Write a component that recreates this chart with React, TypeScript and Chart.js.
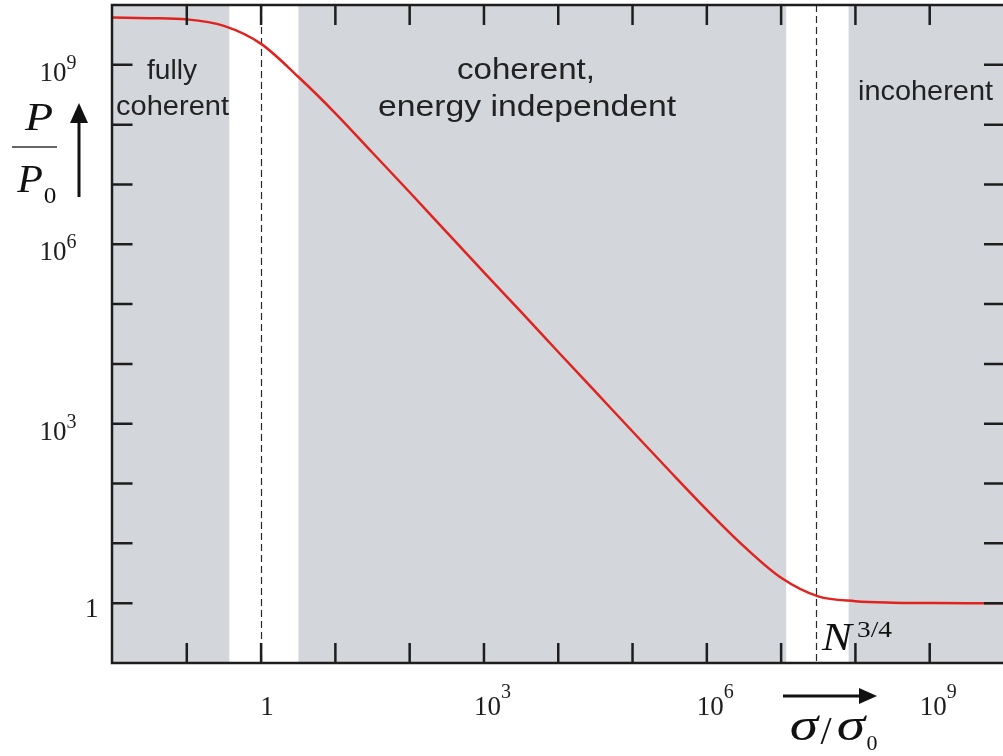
import { useEffect, useRef } from 'react';
import { Chart, registerables } from 'chart.js';

Chart.register(...registerables);

// Relative cross-section σ/σ0, sampled every half decade
const sigmaRatio = [
  1e-2, 3.16e-2, 1e-1, 3.16e-1, 1, 3.16, 10, 31.6, 100, 316, 1e3, 3.16e3, 1e4,
  3.16e4, 1e5, 3.16e5, 1e6, 3.16e6, 1e7, 3.16e7, 1e8, 3.16e8, 1e9, 3.16e9, 1e10,
];
// Relative power P/P0 at those points
const powerRatio = [
  6.17e9, 6.03e9, 5.75e9, 4.47e9, 2.24e9, 6.31e8, 1.55e8, 3.39e7, 7.41e6, 1.58e6,
  3.39e5, 7.41e4, 1.58e4, 3.43e3, 741, 162, 36.3, 8.91, 2.66, 1.30, 1.08, 1.02, 1.007,
  1.0, 1.0,
];

// Transition windows between the regimes (white bands)
const transitionStart = [0.374, 1.17e7];
const transitionEnd = [3.18, 8.1e7];
// Characteristic values marked with dashed lines: σ0 and N^{3/4}
const markerSigma = [1, 2.95e7];

// Decade ticks
const xTickValues = [1e-1, 1, 10, 100, 1e3, 1e4, 1e5, 1e6, 1e7, 1e8, 1e9];
const yTickValues = [1, 10, 100, 1e3, 1e4, 1e5, 1e6, 1e7, 1e8, 1e9];
// Labelled decades and their exponents ('' means plain "1")
const xLabelValues = [1, 1e3, 1e6, 1e9];
const xLabelExponents = ['', '3', '6', '9'];
const yLabelValues = [1, 1e3, 1e6, 1e9];
const yLabelExponents = ['', '3', '6', '9'];

// Regime names
const regimeLabels = ['fully', 'coherent', 'coherent,', 'energy independent', 'incoherent'];

const GRAY = '#d3d6db';
const INK = '#1e1e1e';
const CURVE = '#e0231f';
const SERIF = '"Liberation Serif", "DejaVu Serif", serif';
const SANS = '"Liberation Sans", Arial, sans-serif';

// Draws text with its left edge at `left`, stretched horizontally to end at `right`
function fitText(
  ctx: CanvasRenderingContext2D,
  text: string,
  font: string,
  left: number,
  right: number,
  baseline: number
) {
  ctx.font = font;
  const w = ctx.measureText(text).width;
  const sx = (right - left) / w;
  ctx.save();
  ctx.translate(left, baseline);
  ctx.scale(sx, 1);
  ctx.textAlign = 'left';
  ctx.textBaseline = 'alphabetic';
  ctx.fillText(text, 0, 0);
  ctx.restore();
}

// Draws text centred on `cx` with a fixed horizontal stretch
function stretchedText(
  ctx: CanvasRenderingContext2D,
  text: string,
  font: string,
  cx: number,
  baseline: number,
  sx: number
) {
  ctx.font = font;
  ctx.save();
  ctx.translate(cx, baseline);
  ctx.scale(sx, 1);
  ctx.textAlign = 'center';
  ctx.textBaseline = 'alphabetic';
  ctx.fillText(text, 0, 0);
  ctx.restore();
}

const regimeBackground = {
  id: 'regimeBackground',
  beforeDatasetsDraw(chart: any) {
    const { ctx, chartArea: a, scales } = chart;
    const x = scales.x;
    ctx.save();
    ctx.fillStyle = GRAY;
    ctx.fillRect(a.left, a.top, a.right - a.left, a.bottom - a.top);
    ctx.fillStyle = '#ffffff';
    transitionStart.forEach((lo, i) => {
      const x0 = x.getPixelForValue(lo);
      const x1 = x.getPixelForValue(transitionEnd[i]);
      ctx.fillRect(x0, a.top, x1 - x0, a.bottom - a.top);
    });
    ctx.strokeStyle = '#2a2a2a';
    ctx.lineWidth = 1.2;
    ctx.setLineDash([7, 4]);
    markerSigma.forEach((v) => {
      const px = Math.round(x.getPixelForValue(v)) + 0.5;
      ctx.beginPath();
      ctx.moveTo(px, a.top);
      ctx.lineTo(px, a.bottom);
      ctx.stroke();
    });
    ctx.restore();
  },
};

const frameAndLabels = {
  id: 'frameAndLabels',
  afterDatasetsDraw(chart: any) {
    const { ctx, chartArea: a, scales } = chart;
    const x = scales.x;
    const y = scales.y;
    const tick = 20;
    ctx.save();
    ctx.strokeStyle = INK;
    ctx.lineWidth = 2.5;
    ctx.lineCap = 'butt';

    // inward ticks on all four sides
    xTickValues.forEach((v) => {
      const px = x.getPixelForValue(v);
      ctx.beginPath();
      ctx.moveTo(px, a.bottom);
      ctx.lineTo(px, a.bottom - tick);
      ctx.moveTo(px, a.top);
      ctx.lineTo(px, a.top + tick);
      ctx.stroke();
    });
    yTickValues.forEach((v) => {
      const py = y.getPixelForValue(v);
      ctx.beginPath();
      ctx.moveTo(a.left, py);
      ctx.lineTo(a.left + tick, py);
      ctx.moveTo(a.right, py);
      ctx.lineTo(a.right - tick, py);
      ctx.stroke();
    });

    // frame (left, top, bottom)
    ctx.beginPath();
    ctx.moveTo(a.right, a.top);
    ctx.lineTo(a.left - 0.5, a.top);
    ctx.lineTo(a.left - 0.5, a.bottom);
    ctx.lineTo(a.right, a.bottom);
    ctx.stroke();

    // tick labels
    ctx.fillStyle = INK;
    ctx.textBaseline = 'alphabetic';
    const baseFont = `27px ${SERIF}`;
    const supFont = `20px ${SERIF}`;
    xLabelValues.forEach((v, i) => {
      const px = x.getPixelForValue(v);
      const exp = xLabelExponents[i];
      const baseline = a.bottom + 52;
      ctx.font = baseFont;
      if (!exp) {
        ctx.textAlign = 'center';
        ctx.fillText('1', px + 6, baseline);
      } else {
        ctx.textAlign = 'left';
        const left = px - 10;
        ctx.fillText('10', left, baseline);
        const w = ctx.measureText('10').width;
        ctx.font = supFont;
        ctx.fillText(exp, left + w, baseline - 17);
      }
    });
    yLabelValues.forEach((v, i) => {
      const py = y.getPixelForValue(v);
      const exp = yLabelExponents[i];
      ctx.font = baseFont;
      if (!exp) {
        ctx.textAlign = 'right';
        ctx.fillText('1', a.left - 14, py + 14);
      } else {
        ctx.textAlign = 'right';
        ctx.fillText('10', a.left - 46, py + 16);
        ctx.font = supFont;
        ctx.textAlign = 'left';
        ctx.fillText(exp, a.left - 46, py + 4);
      }
    });

    // regime names
    ctx.fillStyle = '#222222';
    fitText(ctx, regimeLabels[0], `27px ${SANS}`, 147, 197, 79);
    fitText(ctx, regimeLabels[1], `27px ${SANS}`, 116, 229, 115);
    fitText(ctx, regimeLabels[2], `29px ${SANS}`, 457, 595, 79);
    fitText(ctx, regimeLabels[3], `29px ${SANS}`, 378, 676, 116);
    fitText(ctx, regimeLabels[4], `28px ${SANS}`, 858, 993, 100);

    // N^{3/4}
    ctx.fillStyle = '#111111';
    stretchedText(ctx, 'N', `italic 40px ${SERIF}`, 837, 650, 1.12);
    fitText(ctx, '3/4', `24px ${SERIF}`, 857, 892, 637);

    // y axis title P / P0 with arrow
    stretchedText(ctx, 'P', `italic 40px ${SERIF}`, 39, 130, 1.15);
    ctx.lineWidth = 1.3;
    ctx.strokeStyle = '#333333';
    ctx.beginPath();
    ctx.moveTo(12, 147);
    ctx.lineTo(57, 147);
    ctx.stroke();
    stretchedText(ctx, 'P', `italic 40px ${SERIF}`, 30, 192, 1.05);
    stretchedText(ctx, '0', `24px ${SERIF}`, 50, 203, 1.05);

    ctx.fillStyle = '#111111';
    ctx.strokeStyle = '#111111';
    ctx.lineWidth = 3;
    ctx.beginPath();
    ctx.moveTo(79, 197);
    ctx.lineTo(79, 120);
    ctx.stroke();
    ctx.beginPath();
    ctx.moveTo(79, 103);
    ctx.lineTo(88, 123);
    ctx.lineTo(70, 123);
    ctx.closePath();
    ctx.fill();

    // x axis title σ/σ0 with arrow
    ctx.beginPath();
    ctx.moveTo(783, 696);
    ctx.lineTo(861, 696);
    ctx.stroke();
    ctx.beginPath();
    ctx.moveTo(877, 696);
    ctx.lineTo(859, 688);
    ctx.lineTo(859, 704);
    ctx.closePath();
    ctx.fill();
    stretchedText(ctx, 'σ', `italic 46px ${SERIF}`, 804, 740, 1.25);
    stretchedText(ctx, '/', `40px ${SERIF}`, 826, 744, 1.0);
    stretchedText(ctx, 'σ', `italic 46px ${SERIF}`, 851, 740, 1.25);
    stretchedText(ctx, '0', `22px ${SERIF}`, 872, 750, 1.0);

    ctx.restore();
  },
};

export default function App() {
  const canvasRef = useRef<HTMLCanvasElement | null>(null);

  useEffect(() => {
    const canvas = canvasRef.current;
    if (!canvas) return;
    const chart = new Chart(canvas, {
      type: 'line',
      data: {
        datasets: [
          {
            data: sigmaRatio.map((s, i) => ({ x: s, y: powerRatio[i] })),
            borderColor: CURVE,
            borderWidth: 2.5,
            pointRadius: 0,
            fill: false,
            cubicInterpolationMode: 'monotone',
          },
        ],
      },
      options: {
        animation: false,
        responsive: false,
        devicePixelRatio: 1,
        events: [],
        layout: { padding: { left: 112.5, top: 5, right: 0, bottom: 93 } },
        plugins: {
          legend: { display: false },
          tooltip: { enabled: false },
        },
        scales: {
          x: { type: 'logarithmic', min: 1e-2, max: 1e10, display: false },
          y: { type: 'logarithmic', min: 1e-1, max: 1e10, display: false },
        },
      },
      plugins: [regimeBackground, frameAndLabels],
    } as any);
    return () => chart.destroy();
  }, []);

  return (
    <div
      style={{
        position: 'fixed',
        left: 0,
        top: 0,
        width: 1003,
        height: 756,
        overflow: 'hidden',
        background: '#ffffff',
      }}
    >
      <canvas ref={canvasRef} width={1004} height={756} style={{ display: 'block' }} />
    </div>
  );
}
